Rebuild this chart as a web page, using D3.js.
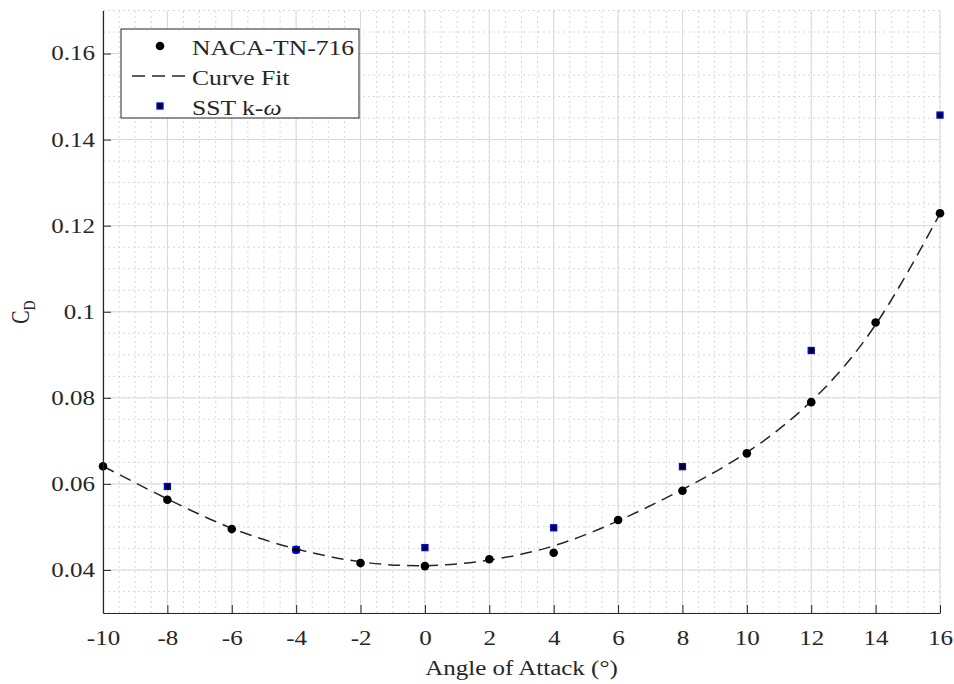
<!DOCTYPE html>
<html>
<head>
<meta charset="utf-8">
<script src="https://cdn.jsdelivr.net/npm/d3@7"></script>
<style>
    body { margin: 0; background: #fff; }
    svg { display: block; font-family: "Liberation Serif", "Times New Roman", serif; }
</style>
</head>
<body>
<svg id="chart" width="954" height="684"></svg>
<script>
// Angle of attack (deg)
const nacaAlpha = [-10, -8, -6, -4, -2, 0, 2, 4, 6, 8, 10, 12, 14, 16];
const nacaCd = [0.0641, 0.0563, 0.0495, 0.0447, 0.0416, 0.0409, 0.0425, 0.0440, 0.0516, 0.0584, 0.0671, 0.0790, 0.0975, 0.1229];

// curve fit
const fitAlpha = [-10, -8, -6, -4, -2, 0, 2, 4, 6, 8, 10, 12, 14, 16];
const fitCd = [0.0641, 0.0565, 0.0497, 0.0449, 0.0419, 0.0410, 0.0423, 0.0456, 0.0514, 0.0587, 0.0673, 0.0792, 0.0970, 0.1228];

const sstAlpha = [-8, -4, 0, 4, 8, 12, 16];
const sstCd = [0.0594, 0.0447, 0.0452, 0.0498, 0.0640, 0.0910, 0.1457];

const xTicks = [-10, -8, -6, -4, -2, 0, 2, 4, 6, 8, 10, 12, 14, 16];
const xTickLabels = ["-10", "-8", "-6", "-4", "-2", "0", "2", "4", "6", "8", "10", "12", "14", "16"];
const yTicks = [0.04, 0.06, 0.08, 0.1, 0.12, 0.14, 0.16];
const yTickLabels = ["0.04", "0.06", "0.08", "0.1", "0.12", "0.14", "0.16"];

const legendLabels = ["NACA-TN-716", "Curve Fit", "SST k-"];

const ink = "#262626";
const stretch = "scale(1.25,1)"; // text in the reference is drawn wide

const svg = d3.select("#chart");

const x = d3.scaleLinear().domain([-10, 16]).range([103, 940]);
const y = d3.scaleLinear().domain([0.03, 0.17]).range([613, 10.5]);

// Grid: minor (dotted) then major (solid)
const grid = svg.append("g");
grid.selectAll(".vminor")
    .data(d3.range(-10, 16.001, 0.5))
    .enter().append("line")
    .attr("x1", d => x(d)).attr("x2", d => x(d))
    .attr("y1", y(0.03)).attr("y2", y(0.17))
    .style("stroke", "#d8d8d8").style("stroke-width", 1).style("stroke-dasharray", "2,3");
grid.selectAll(".hminor")
    .data(d3.range(0.03, 0.1701, 0.005))
    .enter().append("line")
    .attr("x1", x(-10)).attr("x2", x(16))
    .attr("y1", d => y(d)).attr("y2", d => y(d))
    .style("stroke", "#d8d8d8").style("stroke-width", 1).style("stroke-dasharray", "2,3");
grid.selectAll(".vmajor")
    .data(xTicks)
    .enter().append("line")
    .attr("x1", d => x(d)).attr("x2", d => x(d))
    .attr("y1", y(0.03)).attr("y2", y(0.17))
    .style("stroke", "#d9d9d9").style("stroke-width", 1);
grid.selectAll(".hmajor")
    .data(yTicks)
    .enter().append("line")
    .attr("x1", x(-10)).attr("x2", x(16))
    .attr("y1", d => y(d)).attr("y2", d => y(d))
    .style("stroke", "#d9d9d9").style("stroke-width", 1);

// Curve fit
const line = d3.line()
    .x((d, i) => x(fitAlpha[i]))
    .y(d => y(d))
    .curve(d3.curveNatural);

svg.append("path")
    .datum(fitCd)
    .attr("d", line)
    .style("fill", "none")
    .style("stroke", ink)
    .style("stroke-width", 1.5)
    .style("stroke-dasharray", "12,7");

// NACA points
svg.selectAll(".naca")
    .data(nacaCd)
    .enter().append("circle")
    .attr("cx", (d, i) => x(nacaAlpha[i]))
    .attr("cy", d => y(d))
    .attr("r", 4.3)
    .style("fill", "#000");

// SST k-omega points
const sq = 6;
svg.selectAll(".sst")
    .data(sstCd)
    .enter().append("rect")
    .attr("x", (d, i) => x(sstAlpha[i]) - sq / 2)
    .attr("y", d => y(d) - sq / 2)
    .attr("width", sq).attr("height", sq)
    .style("fill", "#000")
    .style("stroke", "#0000ff")
    .style("stroke-width", 1.3);

// Axes
const xAxis = svg.append("g")
    .attr("transform", `translate(0,${y(0.03)})`)
    .call(d3.axisBottom(x).tickValues(xTicks).tickFormat((d, i) => xTickLabels[i])
        .tickSizeInner(-8).tickSizeOuter(0).tickPadding(18));
const yAxis = svg.append("g")
    .attr("transform", `translate(${x(-10)},0)`)
    .call(d3.axisLeft(y).tickValues(yTicks).tickFormat((d, i) => yTickLabels[i])
        .tickSizeInner(-8).tickSizeOuter(0).tickPadding(6.4));

[xAxis, yAxis].forEach(g => {
    g.select(".domain").style("stroke", ink).style("stroke-width", 1.2);
    g.selectAll(".tick line").style("stroke", ink);
    g.selectAll(".tick text")
        .attr("transform", stretch)
        .style("font-family", "Liberation Serif, Times New Roman, serif")
        .style("font-size", "20px")
        .style("fill", ink);
});

// Axis titles
svg.append("text")
    .attr("transform", `translate(${(x(-10) + x(16)) / 2},675) ${stretch}`)
    .attr("text-anchor", "middle")
    .style("font-size", "20px")
    .style("fill", ink)
    .text("Angle of Attack (°)");

const yTitle = svg.append("text")
    .attr("transform", `translate(29,312) ${stretch} rotate(-90)`)
    .attr("text-anchor", "middle")
    .style("font-size", "20px")
    .style("fill", ink);
yTitle.append("tspan").text("C");
yTitle.append("tspan").attr("dy", "0.35em").style("font-size", "14px").text("D");

// Legend
const legend = svg.append("g");
legend.append("rect")
    .attr("x", 121).attr("y", 29)
    .attr("width", 238).attr("height", 89)
    .style("fill", "#fff")
    .style("stroke", ink)
    .style("stroke-width", 1);

const rowY = [46, 76, 106];
legend.append("circle")
    .attr("cx", 160).attr("cy", rowY[0]).attr("r", 4.3)
    .style("fill", "#000");
legend.append("line")
    .attr("x1", 132).attr("x2", 188)
    .attr("y1", rowY[1]).attr("y2", rowY[1])
    .style("stroke", ink).style("stroke-width", 1.5).style("stroke-dasharray", "13,7");
legend.append("rect")
    .attr("x", 160 - sq / 2).attr("y", rowY[2] - sq / 2)
    .attr("width", sq).attr("height", sq)
    .style("fill", "#000").style("stroke", "#0000ff").style("stroke-width", 1.3);

legendLabels.forEach((label, i) => {
    const t = legend.append("text")
        .attr("transform", `translate(192,${rowY[i] + 8.5}) ${stretch}`)
        .style("font-size", "20.5px")
        .style("fill", ink)
        .text(label);
    if (i === 2) {
        t.append("tspan").style("font-style", "italic").text("ω");
    }
});
</script>
</body>
</html>
